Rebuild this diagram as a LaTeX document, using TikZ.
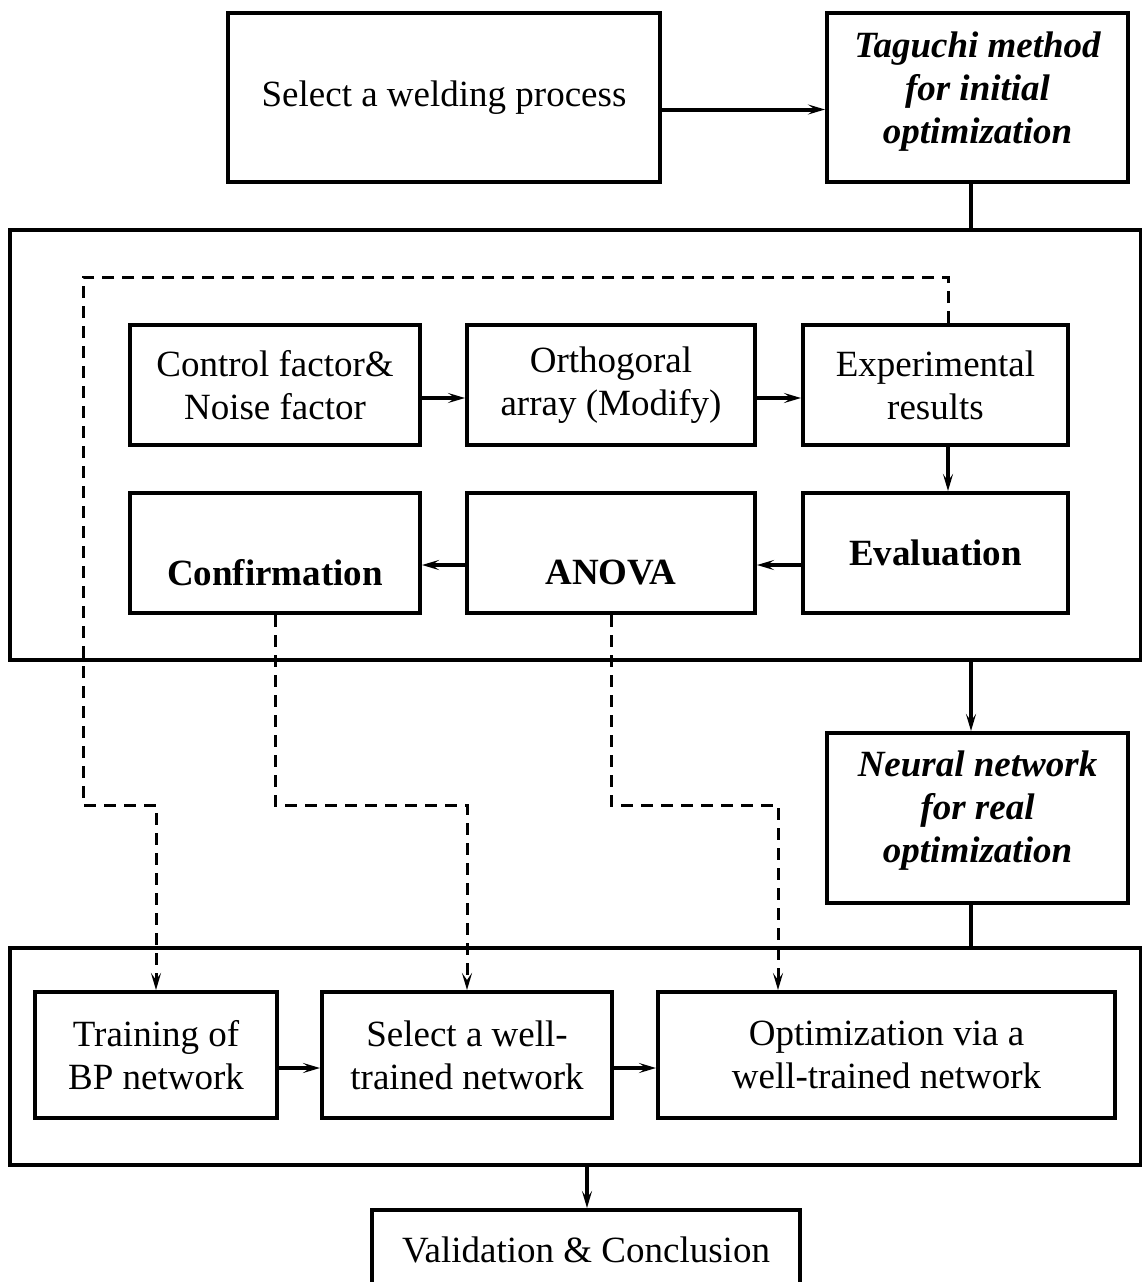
\documentclass[tikz,border=0pt]{standalone}
\usepackage{fontspec}
\setmainfont{Liberation Serif}
\usetikzlibrary{arrows.meta}

\begin{document}
\begin{tikzpicture}[x=1pt,y=-1pt,
  box/.style={draw, line width=4pt, rectangle, inner sep=0pt, align=center,
              font=\fontsize{37}{43}\selectfont},
  txt/.style={inner sep=0pt, align=center, font=\fontsize{37}{43}\selectfont},
  frame/.style={draw, line width=4pt, rectangle, inner sep=0pt},
  link/.style={line width=4pt},
  arr/.style={line width=4pt, -{Stealth[length=17pt,width=10pt,inset=7pt]}},
  dline/.style={line width=3pt, dash pattern=on 12pt off 8pt},
  darr/.style={dline, -{Stealth[length=17pt,width=10pt,inset=7pt]}},
]
\useasboundingbox (0,0) rectangle (1141,1282);

% top row
\node[box, minimum width=432pt, minimum height=169pt] (sel) at (444,97.5) {Select a welding process};
\node[box, minimum width=301pt, minimum height=169pt] (tag) at (977.5,97.5) {};
\node[txt, font=\fontsize{37}{43}\selectfont\bfseries\itshape] (tagt) at ([yshift=6pt]tag.center)
  {Taguchi method\\for initial\\optimization};

% Taguchi stage frame and its steps
\node[frame, minimum width=1131pt, minimum height=430pt] (f1) at (575.5,445) {};
\node[box, minimum width=290pt, minimum height=120pt] (cf) at (275,385) {Control factor\&\\Noise factor};
\node[box, minimum width=288pt, minimum height=120pt] (oa) at (611,385) {Orthogoral\\array (Modify)};
\node[box, minimum width=265pt, minimum height=120pt] (er) at (935.5,385) {Experimental\\results};
\node[box, minimum width=290pt, minimum height=120pt] (cn) at (275,553) {};
\node[txt, font=\fontsize{37}{43}\selectfont\bfseries] (cnt) at ([yshift=-20pt]cn.center) {Confirmation};
\node[box, minimum width=288pt, minimum height=120pt] (an) at (611,553) {};
\node[txt, font=\fontsize{37}{43}\selectfont\bfseries] (ant) at ([yshift=-20pt]an.center) {ANOVA};
\node[box, minimum width=265pt, minimum height=120pt, font=\fontsize{37}{43}\selectfont\bfseries] (ev) at (935.5,553) {Evaluation};

% neural network stage
\node[box, minimum width=301pt, minimum height=170pt] (nn) at (977.5,818) {};
\node[txt, font=\fontsize{37}{43}\selectfont\bfseries\itshape] (nnt) at ([yshift=7pt]nn.center)
  {Neural network\\for real\\optimization};

\node[frame, minimum width=1131pt, minimum height=217pt] (f2) at (575.5,1056.5) {};
\node[box, minimum width=242pt, minimum height=126pt] (tr) at (156,1055) {Training of\\BP network};
\node[box, minimum width=290pt, minimum height=126pt] (sl) at (467,1055) {Select a well-\\trained network};
\node[box, minimum width=457pt, minimum height=126pt] (op) at (886.5,1055) {Optimization via a\\well-trained network};

\node[box, minimum width=428pt, minimum height=80pt] (val) at (586,1250) {Validation \& Conclusion};

% helper columns and rows for the routed connectors
\coordinate (cx) at (971,0);
\coordinate (dx) at (948,0);
\coordinate (vx) at (587,0);
\coordinate (ox) at (778,0);
\coordinate (lt) at (83,277);
\coordinate (lb) at (83,805);

% solid connectors
\draw[arr] ([yshift=-12pt]sel.east) -- ([yshift=-12pt]tag.west);
\draw[link] (tag.south -| cx) -- (f1.north -| cx);
\draw[arr] ([yshift=-13pt]cf.east) -- ([yshift=-13pt]oa.west);
\draw[arr] ([yshift=-13pt]oa.east) -- ([yshift=-13pt]er.west);
\draw[arr] (er.south -| dx) -- (ev.north -| dx);
\draw[arr] ([yshift=-12pt]ev.west) -- ([yshift=-12pt]an.east);
\draw[arr] ([yshift=-12pt]an.west) -- ([yshift=-12pt]cn.east);
\draw[arr] (f1.south -| cx) -- (nn.north -| cx);
\draw[link] (nn.south -| cx) -- (f2.north -| cx);
\draw[arr] ([yshift=-13pt]tr.east) -- ([yshift=-13pt]sl.west);
\draw[arr] ([yshift=-13pt]sl.east) -- ([yshift=-13pt]op.west);
\draw[arr] (f2.south -| vx) -- (val.north -| vx);

% dashed feedback routes
\draw[darr] (er.north -| dx) |- (lt) -- (lb) -| (tr.north);
\draw[darr] (cn.south) -- (cn.south |- lb) -| (sl.north);
\draw[darr] (an.south) -- (an.south |- lb) -| (op.north -| ox);
\end{tikzpicture}
\end{document}
